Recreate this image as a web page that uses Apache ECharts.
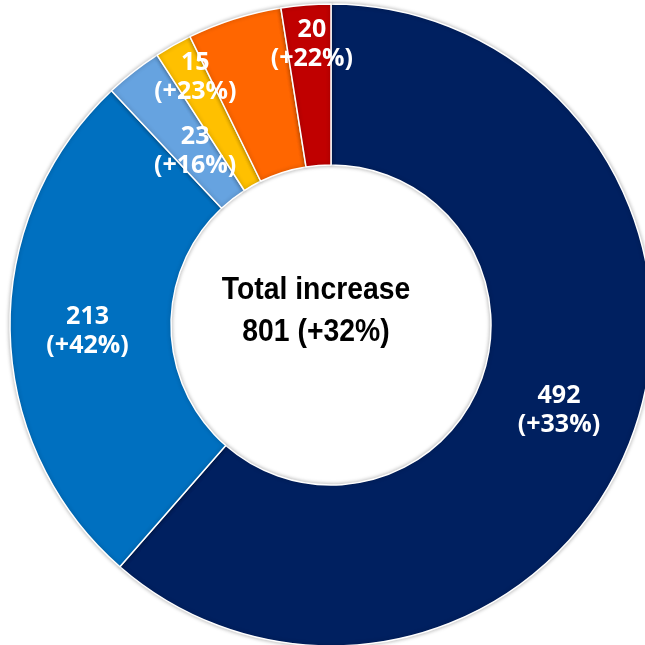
<!DOCTYPE html>
<html>
<head>
<meta charset="utf-8">
<script src="https://cdn.jsdelivr.net/npm/echarts@6/dist/echarts.min.js"></script>
<style>
html,body{margin:0;padding:0;background:#fff;}
#chart{width:645px;height:645px;}
</style>
</head>
<body>
<div id="chart"></div>
<script>
const categories = ['A', 'B', 'C', 'D', 'E', 'F'];
const values = [492, 213, 23, 15, 38, 20];
const growth = ['+33%', '+42%', '+16%', '+23%', '+19%', '+22%'];
const totalValue = 801;
const totalGrowth = '+32%';

const colors = ['#002060', '#0070C0', '#66A3E0', '#FFC000', '#FF6600', '#C00000'];
const labelOffsets = [[0, 0], [0, 2], [14, 18], [-16, -36], [11, 13], [0, -38]];

const chart = echarts.init(document.getElementById('chart'), null, {renderer: 'canvas'});
const data = values.map((v, i) => ({
  name: categories[i],
  value: v,
  itemStyle: {color: colors[i]},
  label: {offset: labelOffsets[i]}
}));

chart.setOption({
  animation: false,
  series: [{
    type: 'pie',
    center: [331, 325],
    radius: [160, 321],
    startAngle: 90,
    clockwise: true,
    avoidLabelOverlap: false,
    itemStyle: {borderColor: '#ffffff', borderWidth: 1.5, shadowBlur: 4, shadowColor: 'rgba(0,0,0,0.3)'},
    label: {
      show: true,
      position: 'inside',
      formatter: p => p.value + '\n(' + growth[p.dataIndex] + ')',
      color: '#ffffff',
      fontFamily: '"Open Sans", Lato, sans-serif',
      fontWeight: 'bold',
      fontSize: 25,
      lineHeight: 29,
      align: 'center'
    },
    labelLine: {show: false},
    emphasis: {disabled: true},
    data: data
  }],
  graphic: [{
    type: 'text',
    x: 316,
    y: 311,
    scaleX: 0.886,
    style: {
      text: 'Total increase\n' + totalValue + ' (' + totalGrowth + ')',
      x: 0,
      y: 0,
      align: 'center',
      verticalAlign: 'middle',
      fill: '#000000',
      font: 'bold 32px "Liberation Sans", Arial, sans-serif',
      lineHeight: 42
    }
  }]
});
</script>
</body>
</html>
